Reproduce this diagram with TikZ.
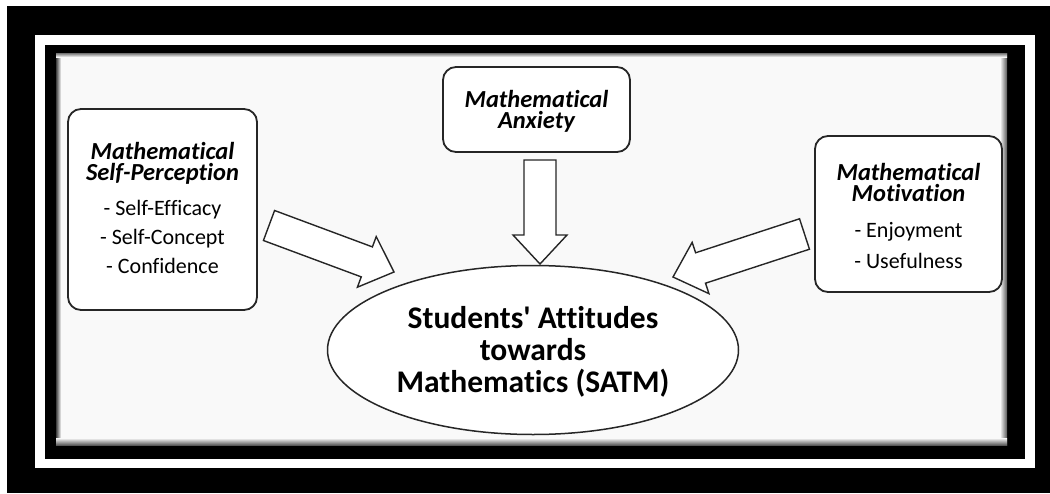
\documentclass[tikz,border=0pt]{standalone}
\usepackage{fontspec}
\setmainfont{Carlito}[Ligatures=NoCommon]
\newfontfamily\plaincarlito{Carlito}[Ligatures=NoCommon]
\usetikzlibrary{calc,shapes.geometric}
\newcommand\blockarrow[2]{%
  \coordinate (ba-base) at ($(#2)!29pt!(#1)$);
  \draw[blockarrow] ($(#1)!16pt!90:(#2)$) -- ($(ba-base)!16pt!-90:(#1)$) -- ($(ba-base)!27pt!-90:(#1)$) -- (#2)
     -- ($(ba-base)!27pt!90:(#1)$) -- ($(ba-base)!16pt!90:(#1)$) -- ($(#1)!16pt!-90:(#2)$) -- cycle;}
\begin{document}
\begin{tikzpicture}[x=1pt,y=-1pt,
  factor/.style={draw=black!85, line width=1.8pt, rounded corners=13pt, fill=white, inner sep=0pt},
  ttl/.style={font=\fontsize{24.5}{21}\selectfont\bfseries\itshape, align=center, anchor=base, inner sep=0pt},
  items/.style={font=\fontsize{22}{29}\selectfont, align=center, anchor=base, inner sep=0pt},
  blockarrow/.style={draw=black!85, line width=1.4pt, fill=white, line join=miter},
  satm/.style={draw=black!85, line width=1.5pt, ellipse, fill=white, inner sep=0pt},
  satmtext/.style={align=center, anchor=base, inner sep=0pt,
    font=\plaincarlito\fontsize{31.5}{32}\selectfont\bfseries},
]
\useasboundingbox (0,0) rectangle (1050,493);
% frame
\fill[white] (0,0) rectangle (1050,493);
\fill[black] (7,6) rectangle (1050,493);
\fill[white] (35,35) rectangle (1035,468);
\fill[black] (45,45) rectangle (1025,459);
\fill[gray!5] (56,53) rectangle (1007,445);
\shade[left color=black!75, right color=gray!5] (56,53) rectangle (61,445);
\shade[left color=gray!5, right color=black!65] (1000,53) rectangle (1007,445);
\shade[top color=gray!5, bottom color=black!65] (56,438) rectangle (1007,445);
\shade[top color=black!55, bottom color=gray!5] (56,53) rectangle (1007,57);

% boxes
\node[factor, minimum width=189, minimum height=201] (sp) at (162.5,209.5) {};
\node[ttl] (spt) at (162.5,180) {Mathematical\\Self-Perception};
\node[items] (spi) at (162.5,273) {- Self-Efficacy\\- Self-Concept\\- Confidence};

\node[factor, minimum width=187, minimum height=85] (ma) at (536.5,109.5) {};
\node[ttl] (mat) at (536.5,128) {Mathematical\\Anxiety};

\node[factor, minimum width=187, minimum height=156] (mm) at (908.5,214) {};
\node[ttl] (mmt) at (908.5,201) {Mathematical\\Motivation};
\node[items, font=\fontsize{22}{31}\selectfont] (mmi) at (908.5,268) {- Enjoyment\\- Usefulness};

% central ellipse
\node[satm, minimum width=411, minimum height=169] (sa) at (533,350) {};
\node[satmtext] (sat) at (533,392) {Students\char39\ Attitudes\\towards\\Mathematics (SATM)};

% block arrows
\coordinate (a1s) at (269,225.5);
\coordinate (a1e) at (394,272);
\coordinate (a2s) at (540,160);
\coordinate (a2e) at (540,264);
\coordinate (a3s) at (804.5,234);
\coordinate (a3e) at (673,277);
\blockarrow{a1s}{a1e}
\blockarrow{a2s}{a2e}
\blockarrow{a3s}{a3e}
\end{tikzpicture}
\end{document}
